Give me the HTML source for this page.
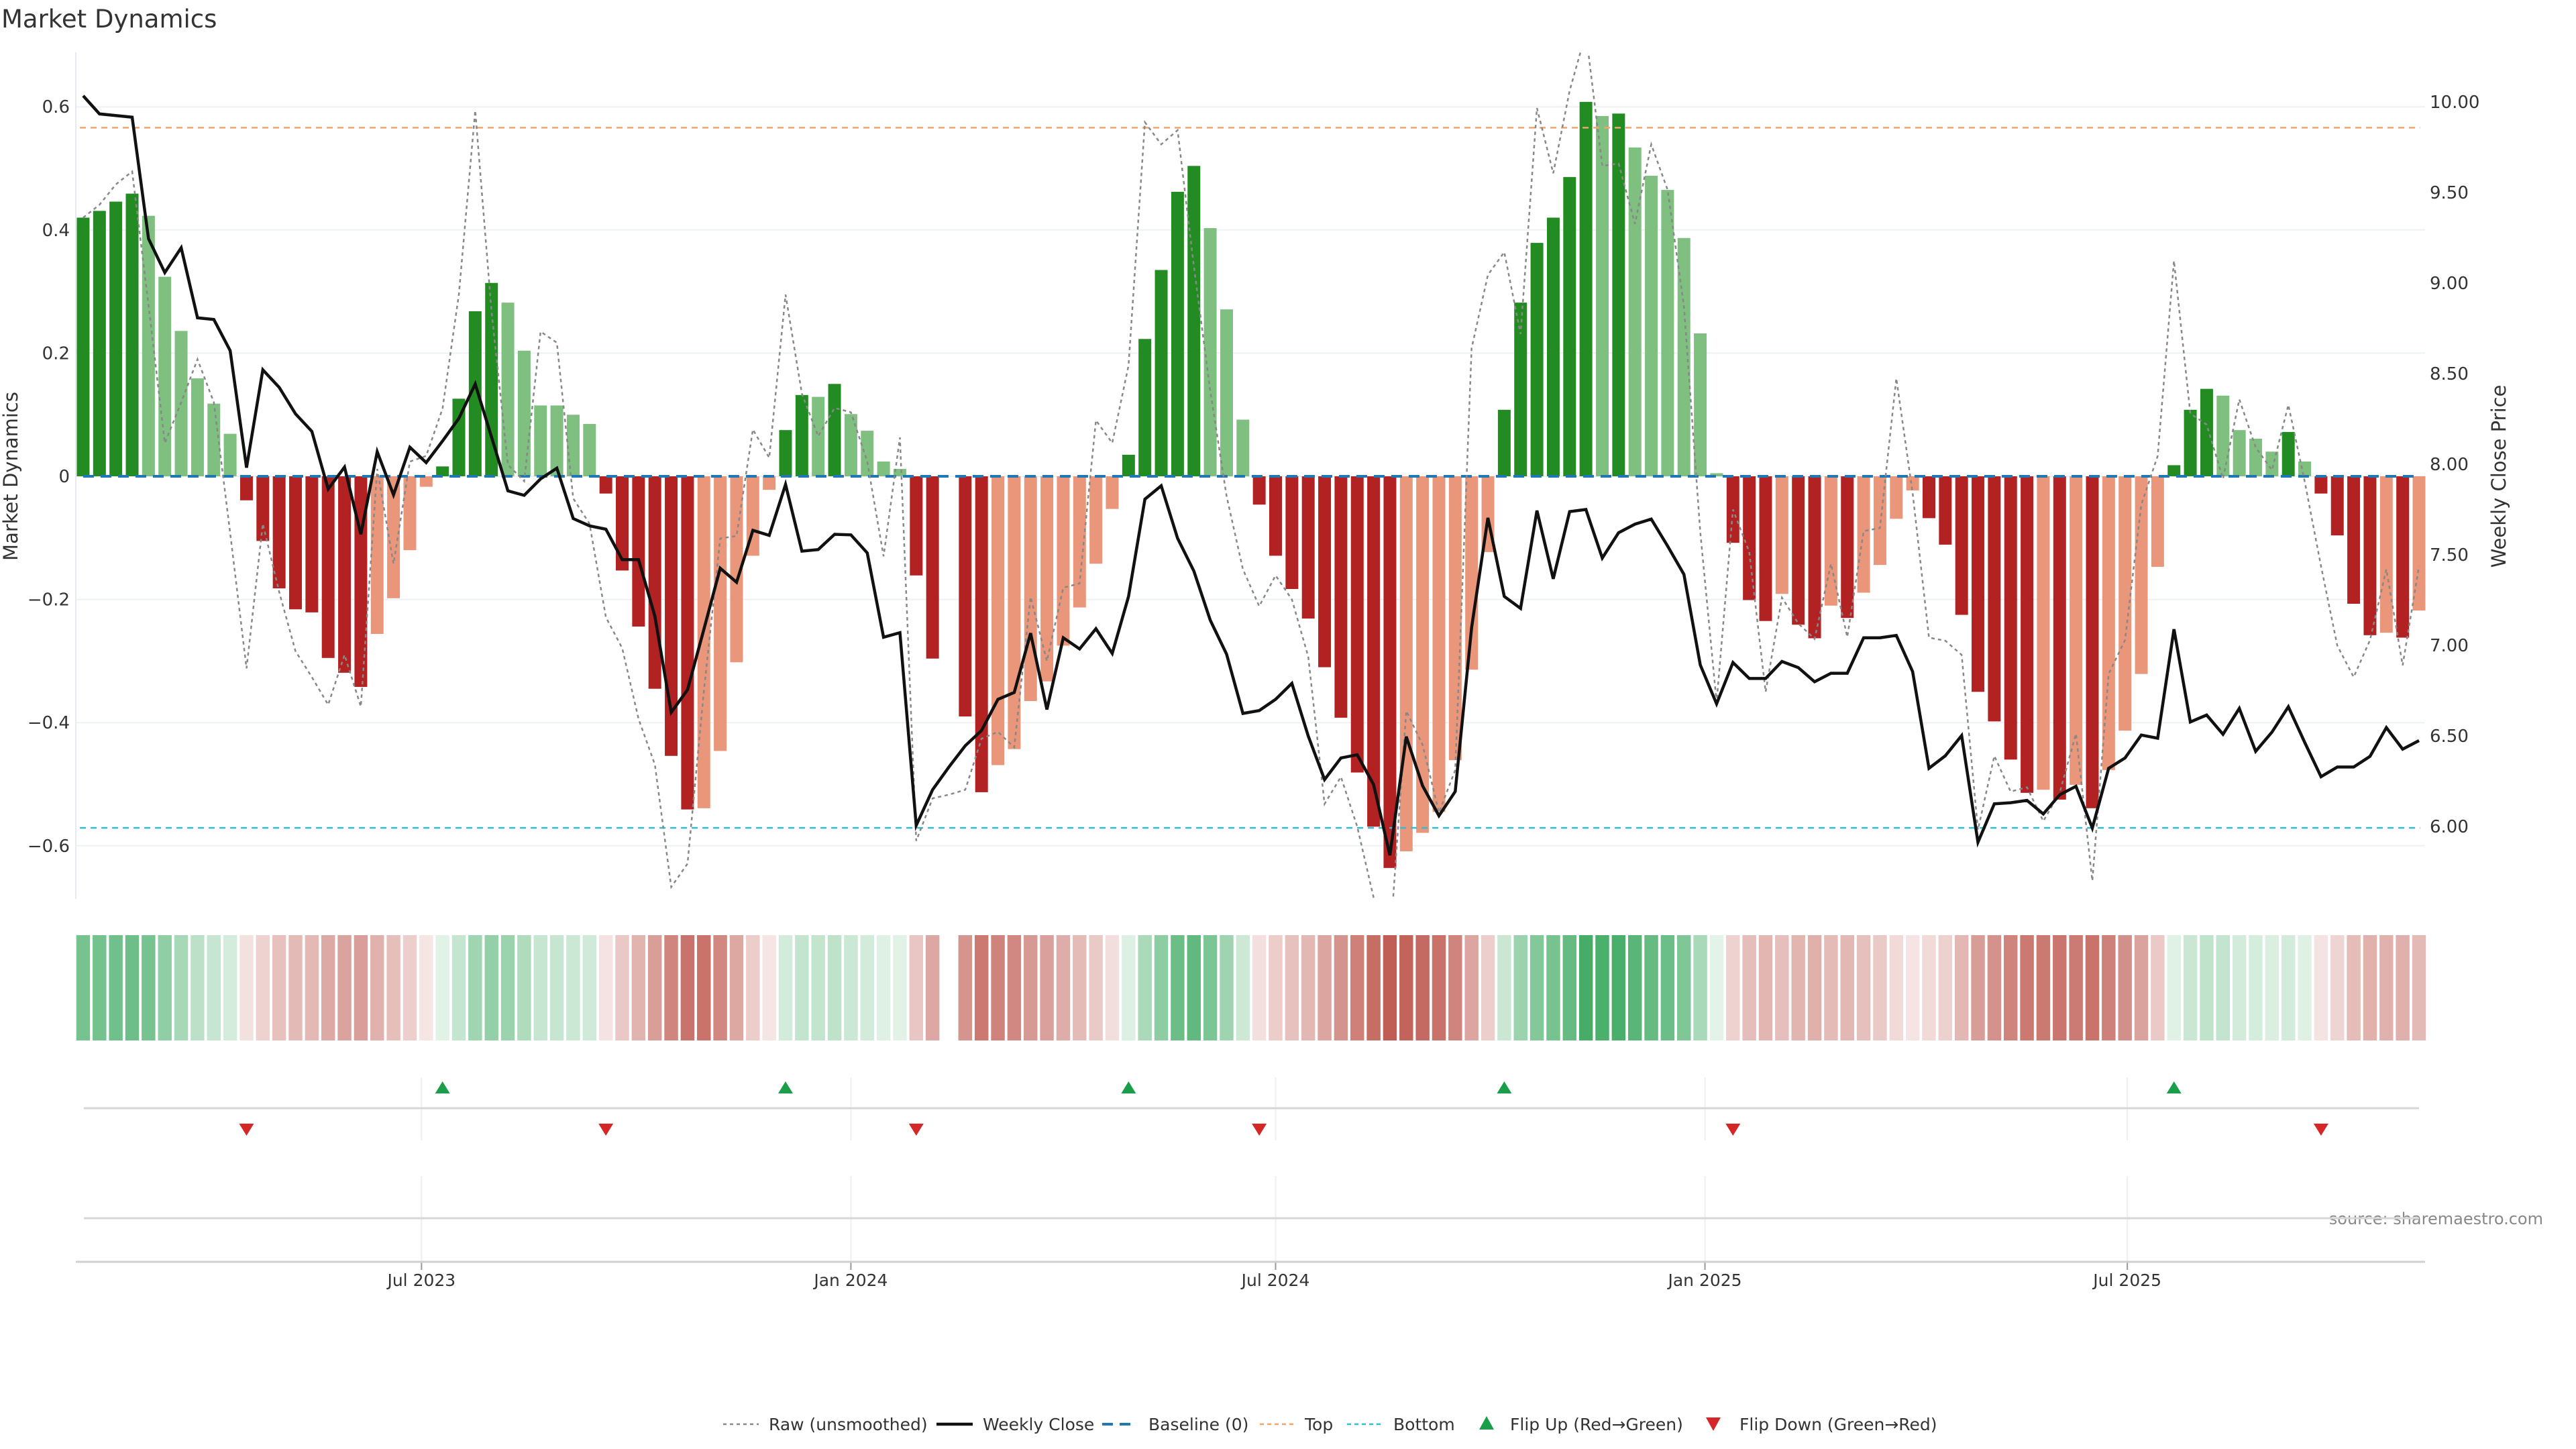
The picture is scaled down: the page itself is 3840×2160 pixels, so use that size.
<!DOCTYPE html>
<html><head><meta charset="utf-8"><title>Market Dynamics</title>
<style>
html,body{margin:0;padding:0;background:#fff;}
svg{display:block;font-family:"DejaVu Sans","Liberation Sans",sans-serif;}
</style></head>
<body>
<svg id="chart" width="3840" height="2160" viewBox="0 0 3840 2160" xmlns="http://www.w3.org/2000/svg">
<rect width="3840" height="2160" fill="#fff"/>
<text x="2" y="41" font-size="37" fill="#333">Market Dynamics</text>
<text transform="translate(26,710) rotate(-90)" text-anchor="middle" font-size="29" fill="#333">Market Dynamics</text>
<text transform="translate(3735,710) rotate(-90)" text-anchor="middle" font-size="29" fill="#333">Weekly Close Price</text>
<text x="3791" y="1825" text-anchor="end" font-size="24" fill="#888">source: sharemaestro.com</text>
<defs><clipPath id="plotclip"><rect x="113" y="78" width="3502" height="1262"/></clipPath></defs>
<g id="grid"></g>
<g id="bars"></g>
<g id="lines" clip-path="url(#plotclip)"></g>
<g id="axes"></g>
<g id="strip"></g>
<g id="flips"></g>
<g id="legend"></g>
</svg>
<script>
const momentum = [0.42,0.431,0.446,0.459,0.423,0.324,0.236,0.159,0.118,0.069,
-0.039,-0.105,-0.182,-0.216,-0.221,-0.295,-0.319,-0.342,-0.256,-0.198,
-0.120,-0.017,0.016,0.126,0.268,0.314,0.282,0.204,0.115,0.115,
0.100,0.085,-0.028,-0.153,-0.244,-0.345,-0.454,-0.541,-0.539,-0.446,
-0.302,-0.129,-0.022,0.075,0.132,0.129,0.150,0.101,0.074,0.024,
0.012,-0.161,-0.296,null,-0.39,-0.513,-0.469,-0.443,-0.365,-0.333,
-0.275,-0.213,-0.142,-0.053,0.035,0.223,0.335,0.462,0.504,0.403,
0.271,0.092,-0.046,-0.129,-0.183,-0.231,-0.31,-0.392,-0.481,-0.569,
-0.636,-0.609,-0.579,-0.545,-0.461,-0.314,-0.123,0.108,0.282,0.379,
0.42,0.486,0.608,0.585,0.589,0.534,0.488,0.465,0.387,0.232,
0.005,-0.108,-0.201,-0.235,-0.191,-0.241,-0.263,-0.21,-0.23,-0.189,
-0.144,-0.069,-0.023,-0.068,-0.111,-0.225,-0.35,-0.398,-0.46,-0.514,
-0.509,-0.525,-0.501,-0.539,-0.477,-0.413,-0.321,-0.147,0.018,0.108,
0.142,0.131,0.075,0.061,0.040,0.072,0.024,-0.028,-0.096,-0.207,
-0.258,-0.254,-0.262,-0.218];
const raw = [0.42,0.441,0.474,0.495,0.278,0.054,0.12,0.19,0.12,-0.092,
-0.312,-0.077,-0.188,-0.284,-0.326,-0.371,-0.29,-0.374,0.012,-0.142,
0.024,0.033,0.11,0.295,0.594,0.268,0.019,-0.008,0.235,0.217,
-0.036,-0.077,-0.229,-0.279,-0.394,-0.468,-0.667,-0.629,-0.348,-0.101,
-0.097,0.076,0.03,0.295,0.134,0.065,0.111,0.104,0.024,-0.13,
0.063,-0.592,-0.523,-0.517,-0.509,-0.426,-0.415,-0.44,-0.196,-0.3,
-0.181,-0.174,0.091,0.054,0.18,0.575,0.539,0.562,0.341,0.139,
-0.032,-0.151,-0.211,-0.161,-0.2,-0.293,-0.532,-0.488,-0.569,-0.684,
-0.76,-0.381,-0.436,-0.546,-0.477,0.208,0.327,0.364,0.231,0.598,
0.492,0.626,0.72,0.504,0.508,0.41,0.539,0.465,0.276,-0.091,
-0.367,-0.054,-0.123,-0.35,-0.197,-0.239,-0.264,-0.142,-0.261,-0.089,
-0.084,0.159,-0.027,-0.262,-0.267,-0.29,-0.574,-0.454,-0.512,-0.505,
-0.56,-0.514,-0.418,-0.657,-0.321,-0.266,-0.046,0.033,0.35,0.102,
0.084,-0.004,0.125,0.047,0.01,0.116,-0.008,-0.146,-0.275,-0.326,
-0.266,-0.151,-0.307,-0.146];
const closePrice = [10.034,9.934,9.925,9.916,9.245,9.058,9.195,8.808,8.799,8.627,
7.981,8.521,8.424,8.278,8.181,7.863,7.984,7.613,8.069,7.831,
8.094,8.009,8.128,8.253,8.443,8.15,7.853,7.828,7.919,7.978,
7.7,7.66,7.641,7.473,7.473,7.161,6.63,6.755,7.089,7.426,
7.348,7.635,7.607,7.888,7.52,7.529,7.613,7.61,7.51,7.045,
7.07,6.006,6.203,6.328,6.446,6.53,6.702,6.74,7.067,6.646,
7.042,6.98,7.092,6.955,7.27,7.807,7.881,7.591,7.41,7.139,
6.952,6.624,6.64,6.702,6.79,6.499,6.259,6.378,6.396,6.231,
5.841,6.496,6.225,6.059,6.193,7.098,7.704,7.27,7.204,7.744,
7.367,7.738,7.75,7.482,7.622,7.669,7.697,7.548,7.392,6.892,
6.677,6.905,6.817,6.817,6.911,6.877,6.799,6.846,6.846,7.042,
7.042,7.055,6.855,6.321,6.39,6.502,5.913,6.125,6.131,6.144,
6.069,6.175,6.222,5.991,6.321,6.378,6.505,6.487,7.089,6.577,
6.615,6.509,6.652,6.415,6.521,6.661,6.465,6.275,6.328,6.328,
6.387,6.546,6.427,6.474];
const startDate = "2023-02-06";
const leftTicks = [0.6,0.4,0.2,0,-0.2,-0.4,-0.6];
const rightTicks = [10,9.5,9,8.5,8,7.5,7,6.5,6];
const xTickDates = ["2023-07-01","2024-01-01","2024-07-01","2025-01-01","2025-07-01"];
const xTickLabels = ["Jul 2023","Jan 2024","Jul 2024","Jan 2025","Jul 2025"];
const topLevel = 0.566;
const bottomLevel = -0.571;

const NS = "http://www.w3.org/2000/svg";
function mk(tag, attrs, parent){const e=document.createElementNS(NS,tag);for(const k in attrs)e.setAttribute(k,attrs[k]);parent.appendChild(e);return e;}
const X0=113, X1=3615, Y0=78, Y1=1340;
const IDX_MIN=-0.45, IDX_MAX=143.37;
function xScale(i){return X0+(i-IDX_MIN)/(IDX_MAX-IDX_MIN)*(X1-X0);}
function yScale(v){return 710 - v*918;}
function y2Scale(p){return 152 + (10-p)*270;}
const step = xScale(1)-xScale(0);
const d0 = Date.parse(startDate);
function dateIdx(s){return (Date.parse(s)-d0)/(7*86400000);}
function fmt(v){return v===0?"0":(v<0?"\u2212":"")+Math.abs(v).toFixed(1);}

const grid=document.getElementById('grid'), axes=document.getElementById('axes');
leftTicks.forEach(t=>{
  const y=yScale(t);
  const g=mk('line',{x1:X0,x2:X1,y1:y,y2:y,stroke:'#edf0f4','stroke-width':2},grid);
  
  
  const tx=mk('text',{x:104,y:y+9,'text-anchor':'end','font-size':26,fill:'#333'},axes);
  tx.textContent=fmt(t);
  
  
});
rightTicks.forEach(t=>{
  const tx=mk('text',{x:3622,y:y2Scale(t)+9,'font-size':26,fill:'#333'},axes);
  tx.textContent=t.toFixed(2);
  
  
});
const spine=mk('line',{x1:X0,x2:X0,y1:Y0,y2:Y1,stroke:'#e6e9ee','stroke-width':2},axes);



const bars=document.getElementById('bars');
const bw=step*0.78;
let prev=null;
momentum.forEach((v,i)=>{
  if(v===null){prev=null;return;}
  const dark = prev===null || Math.sign(prev)!==Math.sign(v) || Math.abs(v)>Math.abs(prev);
  const col = v>=0 ? (dark?'#228b22':'#7fbf7f') : (dark?'#b22222':'#e9967a');
  const y=Math.min(yScale(v),yScale(0)), h=Math.abs(yScale(v)-yScale(0));
  const r=mk('rect',{x:xScale(i)-bw/2,y:y,width:bw,height:Math.max(h,1),fill:col},bars);
  
  
  prev=v;
});

const lines=document.getElementById('lines');
function lineLevel(v,color,dash,name,w){
  const l=mk('line',{x1:xScale(-0.2),x2:xScale(IDX_MAX-0.3),y1:yScale(v),y2:yScale(v),stroke:color,'stroke-width':w,'stroke-dasharray':dash},lines);
  
  
}
lineLevel(topLevel,'#f2a46a','9,7','top-line',2.5);
lineLevel(bottomLevel,'#2cc0d4','9,7','bottom-line',2.5);
const bl=mk('line',{x1:xScale(0),x2:xScale(143),y1:yScale(0),y2:yScale(0),stroke:'#1f77b4','stroke-width':4,'stroke-dasharray':'16,10'},lines);



const rawPts=raw.map((v,i)=>xScale(i).toFixed(1)+','+yScale(v).toFixed(1)).join(' ');
const rp=mk('polyline',{points:rawPts,fill:'none',stroke:'#888','stroke-width':2.5,'stroke-dasharray':'5,5'},lines);


const cPts=closePrice.map((p,i)=>xScale(i).toFixed(1)+','+y2Scale(p).toFixed(1)).join(' ');
const cp=mk('polyline',{points:cPts,fill:'none',stroke:'#111','stroke-width':4.5,'stroke-linejoin':'miter'},lines);



const strip=document.getElementById('strip');
momentum.forEach((v,i)=>{
  if(v===null)return;
  const a=0.12+0.78*Math.min(Math.abs(v)/0.64,1);
  const base=v>=0?[40,160,80]:[185,75,65];
  const c=base.map(b=>Math.round(255-(255-b)*a));
  const r=mk('rect',{x:xScale(i)-step*0.42,y:1394,width:step*0.84,height:157,fill:`rgb(${c[0]},${c[1]},${c[2]})`},strip);
  
  
});

const flips=document.getElementById('flips');
xTickDates.forEach((d,k)=>{
  const x=xScale(dateIdx(d));
  [[1606,1700],[1753,1881]].forEach(([a,b])=>{
    const g=mk('line',{x1:x,x2:x,y1:a,y2:b,stroke:'#eceff3','stroke-width':2},flips);
    
    
  });
  const tk=mk('line',{x1:x,x2:x,y1:1881,y2:1893,stroke:'#999','stroke-width':2},flips);
  
  
  const t=mk('text',{x:x,y:1917,'text-anchor':'middle','font-size':25,fill:'#333'},flips);
  t.textContent=xTickLabels[k];
  
  
});
[[1652,'flip-panel-line'],[1816,'lower-panel-line']].forEach(([y,n])=>{
  const l=mk('line',{x1:125,x2:3606,y1:y,y2:y,stroke:'#d6d6d6','stroke-width':3},flips);
  
  
});
const xa=mk('line',{x1:113,x2:3615,y1:1881,y2:1881,stroke:'#d0d0d0','stroke-width':3},flips);


let last=null;
momentum.forEach((v,i)=>{
  if(v===null)return;
  if(last!==null && Math.sign(last)!==Math.sign(v)){
    const x=xScale(i);
    if(v>0){
      const p=mk('polygon',{points:`${x-11},1630 ${x+11},1630 ${x},1612`,fill:'#1a9e4a'},flips);
      
      
    } else {
      const p=mk('polygon',{points:`${x-11},1675 ${x+11},1675 ${x},1693`,fill:'#d62728'},flips);
      
      
    }
  }
  last=v;
});

const lg=document.getElementById('legend');
const LY=2123;
function ltext(x,s,n){const t=mk('text',{x:x,y:LY+9,'font-size':25,fill:'#333'},lg);t.textContent=s;}
function lline(x1,x2,c,w,d,n){const l=mk('line',{x1:x1,x2:x2,y1:LY,y2:LY,stroke:c,'stroke-width':w,'stroke-dasharray':d},lg);}
lline(1078,1131,'#888',2.5,'5,5','legend-raw-symbol'); ltext(1146,'Raw (unsmoothed)','legend-raw-label');
lline(1396,1450,'#111',4.5,'none','legend-close-symbol'); ltext(1465,'Weekly Close','legend-close-label');
lline(1643,1695,'#1f77b4',4,'16,10','legend-baseline-symbol'); ltext(1712,'Baseline (0)','legend-baseline-label');
lline(1878,1930,'#f2a46a',2.5,'6,5','legend-top-symbol'); ltext(1945,'Top','legend-top-label');
lline(2008,2062,'#2cc0d4',2.5,'6,5','legend-bottom-symbol'); ltext(2077,'Bottom','legend-bottom-label');
const up=mk('polygon',{points:`2205,${LY+8} 2227,${LY+8} 2216,${LY-12}`,fill:'#1a9e4a'},lg);


ltext(2251,'Flip Up (Red\u2192Green)','legend-flip-up-label');
const dn=mk('polygon',{points:`2543,${LY-10} 2565,${LY-10} 2554,${LY+10}`,fill:'#d62728'},lg);


ltext(2593,'Flip Down (Green\u2192Red)','legend-flip-down-label');
</script>
</body></html>
